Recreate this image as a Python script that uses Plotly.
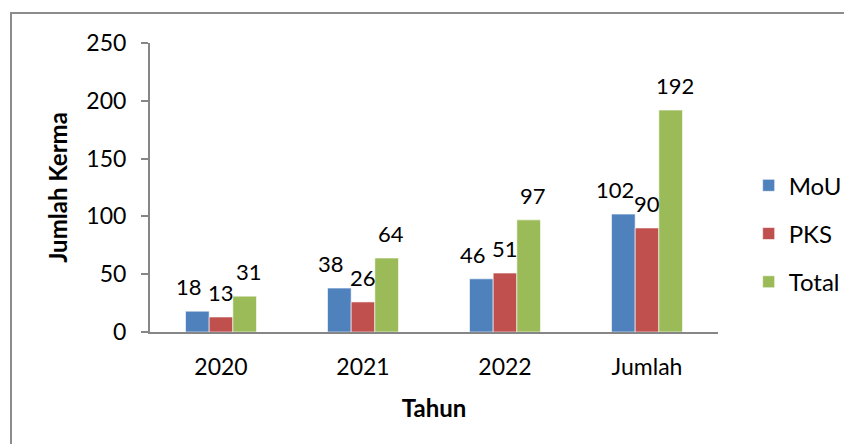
import plotly.graph_objects as go

# Data
categories = ['2020', '2021', '2022', 'Jumlah']
mou = [18, 38, 46, 102]
pks = [13, 26, 51, 90]
total = [31, 64, 97, 192]
y_ticks = [0, 50, 100, 150, 200, 250]

font_family = 'Lato, Noto Sans, sans-serif'
axis_color = '#868686'

fig = go.Figure()
series = [('MoU', mou, '#4F81BD'), ('PKS', pks, '#C0504D'), ('Total', total, '#9BBB59')]
bar_px = 142 * 0.5 / 3  # width of one bar in pixels
label_nudge = [-8, 0, 4]  # Excel spreads the labels out a little
for i, (name, vals, color) in enumerate(series):
    fig.add_trace(go.Bar(
        x=categories, y=vals, name=name, legendgroup=name,
        marker=dict(color=color, line=dict(width=0.6, color='#ffffff')),
    ))
    # data labels a bit above each bar, like Excel does
    for j, v in enumerate(vals):
        fig.add_annotation(x=j, y=v, text=str(v), showarrow=False,
                           xshift=(i - 1) * bar_px + label_nudge[i], yshift=9,
                           yanchor='bottom',
                           font=dict(size=22, color='#000000'))

fig.update_layout(
    width=852, height=444,
    margin=dict(l=142, r=142, t=35, b=120),
    paper_bgcolor='white', plot_bgcolor='white',
    font=dict(family=font_family, size=23, color='#000000'),
    barmode='group', bargap=0.5, bargroupgap=0,
    showlegend=True,
    legend=dict(x=1.054, y=0.34, xanchor='left', yanchor='middle',
                traceorder='grouped', tracegroupgap=14,
                font=dict(size=24, family=font_family)),
    xaxis=dict(
        type='category', range=[-0.5, len(categories) - 0.5],
        showline=True, linecolor=axis_color, linewidth=2,
        showgrid=False, ticks='', ticklabelstandoff=13,
        title=dict(text='<b>Tahun</b>', font=dict(size=24), standoff=22),
    ),
    yaxis=dict(
        range=[0, 250], tickvals=y_ticks, showline=True, linecolor=axis_color,
        linewidth=2, showgrid=False, ticks='outside', ticklen=7,
        tickcolor=axis_color, tickwidth=2, ticklabelstandoff=10, zeroline=False,
        title=dict(text='<b>Jumlah Kerma</b>', font=dict(size=24), standoff=12),
    ),
    shapes=[dict(type='rect', xref='paper', yref='paper',
                 x0=(11 - 150) / 568, x1=1.5, y0=-0.5, y1=(332 - 13) / 289,
                 line=dict(color='#8c8c8c', width=2), layer='below')],
)

fig.write_html('out.html')
